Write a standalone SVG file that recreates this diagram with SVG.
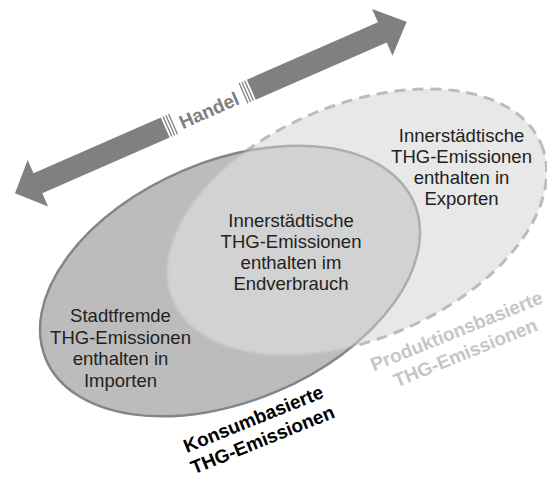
<svg xmlns="http://www.w3.org/2000/svg" xmlns:xlink="http://www.w3.org/1999/xlink" width="547" height="481" viewBox="0 0 547 481">
<style>
.arrow{fill:#808080}
.tick{stroke:#808080;stroke-width:1.3;fill:none}
.lbl{font-family:"Liberation Sans",Arial,sans-serif;font-size:18.5px;fill:#222222;text-anchor:middle}
.big{font-family:"Liberation Sans",Arial,sans-serif;font-weight:bold;font-size:19px;text-anchor:middle}
</style>
<defs>
<ellipse id="prodShape" cx="357" cy="222" rx="200" ry="117" transform="rotate(-23 357 222)"/>
<clipPath id="consClip"><ellipse cx="230" cy="281" rx="201.5" ry="121.5" transform="rotate(-23 230 281)"/></clipPath>
<filter id="soft" x="-10%" y="-10%" width="120%" height="120%"><feGaussianBlur stdDeviation="1.2"/></filter>
</defs>
<rect width="547" height="481" fill="#ffffff"/>

<g id="arrow-handel" transform="translate(15,193.3) rotate(-23.66)">
  <polygon class="arrow" points="0,0 25,-25.5 25,-11 164,-11 164,11 25,11 25,25.5"/>
  <polygon class="arrow" points="258,-11 401,-11 401,-25.5 427.6,0 401,25.5 401,11 258,11"/>
  <path class="tick" d="M166.5,-11V11M169.5,-11V11M172.5,-11V11M249.5,-11V11M252.5,-11V11M255.5,-11V11"/>
  <text class="big" x="211" y="8.5" fill="#808080">Handel</text>
</g>

<g id="node-produktion">
  <use xlink:href="#prodShape" fill="#e8e8e8" stroke="#bcbcbc" stroke-width="3" stroke-dasharray="11 7"/>
</g>

<g id="node-konsum">
  <ellipse cx="230" cy="281" rx="200" ry="120" transform="rotate(-23 230 281)" fill="#bcbcbc" stroke="#858585" stroke-width="2.5"/>
</g>

<g id="node-overlap" clip-path="url(#consClip)">
  <use xlink:href="#prodShape" fill="#ffffff" fill-opacity="0.33" filter="url(#soft)"/>
</g>

<g id="label-exporte">
  <text class="lbl" x="461.5" y="141.5">Innerstädtische</text>
  <text class="lbl" x="461.5" y="162.5">THG-Emissionen</text>
  <text class="lbl" x="461.5" y="183.5">enthalten in</text>
  <text class="lbl" x="461.5" y="204.5">Exporten</text>
</g>

<g id="label-endverbrauch">
  <text class="lbl" x="291" y="226.5">Innerstädtische</text>
  <text class="lbl" x="291" y="247.5">THG-Emissionen</text>
  <text class="lbl" x="291" y="268.5">enthalten im</text>
  <text class="lbl" x="291" y="289.5">Endverbrauch</text>
</g>

<g id="label-importe">
  <text class="lbl" x="120.5" y="322">Stadtfremde</text>
  <text class="lbl" x="120.5" y="343.5">THG-Emissionen</text>
  <text class="lbl" x="120.5" y="365">enthalten in</text>
  <text class="lbl" x="120.5" y="386.5">Importen</text>
</g>

<g id="label-konsum" transform="translate(255.8,425) rotate(-22)">
  <text class="big" x="0" y="0" fill="#000000">Konsumbasierte</text>
  <text class="big" x="0.7" y="22.7" fill="#000000">THG-Emissionen</text>
</g>

<g id="label-produktion" transform="translate(459,337) rotate(-22)">
  <text class="big" x="0" y="0" fill="#c6c6c6">Produktionsbasierte</text>
  <text class="big" x="0" y="23.5" fill="#c6c6c6">THG-Emissionen</text>
</g>
</svg>
